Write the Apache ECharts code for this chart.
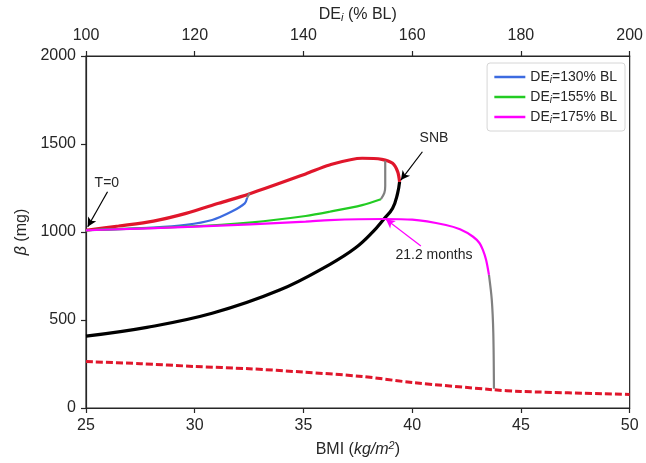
<!DOCTYPE html>
<html>
<head>
<meta charset="utf-8">
<script src="https://cdn.jsdelivr.net/npm/echarts@6/dist/echarts.min.js"></script>
<style>
  html, body { margin: 0; padding: 0; background: #fff; }
  #chart { width: 646px; height: 463px; }
</style>
</head>
<body>
<div id="chart"></div>
<script>
// data: [BMI, beta]
const stableBranch = [[25,408],[27.8,458],[30.8,538],[33.9,670],[36.2,815],[37.4,910],[38.2,1002],[38.7,1074],[39.1,1135],[39.33,1220],[39.42,1285]]
const upperBranch = [[25,1010],[26.5,1034],[28.1,1062],[29.6,1106],[31.1,1163],[32.5,1216],[35.1,1330],[36.2,1381],[37.7,1419],[38.6,1413],[39.1,1390],[39.33,1343],[39.42,1285]]
const lowerBranch = [[25,264],[27.5,252],[30,236],[32.5,223],[35,204],[37.7,179],[40,145],[43.7,104],[45,94],[50,77]]

const de130 = [[25,1010],[28.1,1025],[29.6,1040],[30.8,1068],[31.7,1116],[32.3,1163],[32.41,1195]]
const de130Tail = [[32.41,1195],[32.52,1220]]
const de155 = [[25,1010],[29.6,1030],[32.65,1055],[35.1,1091],[36.2,1115],[37.7,1153],[38.56,1186]]
const de155Tail = [[38.56,1186],[38.72,1222],[38.76,1262],[38.76,1405]]
const de175 = [[25,1010],[30,1030],[35.1,1059],[36.2,1068],[38.7,1074],[40,1070],[41.55,1040],[42.2,1015],[42.8,973],[43.1,936],[43.25,898],[43.4,841],[43.53,756]]
const de175Tail = [[43.53,756],[43.66,614],[43.73,426],[43.76,110]]

const legendNames = ['DEi=130% BL', 'DEi=155% BL', 'DEi=175% BL']
const bmiTicks = [25, 50, 5]
const deTicks = [100, 200, 20]
const betaTicks = [0, 2000, 500]

const font = 'Liberation Sans, Arial, sans-serif'
const ink = '#262626'

const chart = echarts.init(document.getElementById('chart'))

const axisCommon = {
  axisLine: { show: true, lineStyle: { color: ink, width: 1.2 } },
  axisTick: { show: true, length: 5, lineStyle: { color: ink, width: 1.2 } },
  axisLabel: { color: ink, fontSize: 16, fontFamily: font, margin: 10, formatter: v => String(v) },
  splitLine: { show: false },
  nameTextStyle: { color: ink, fontSize: 16, fontFamily: font }
}

let option = {
  animation: false,
  backgroundColor: '#fff',
  grid: { left: 86, right: 15, top: 56, bottom: 55, show: true, borderColor: ink, borderWidth: 1.2, backgroundColor: 'transparent' },
  legend: {
    data: legendNames,
    orient: 'vertical',
    top: 63, right: 21,
    padding: [7, 8, 6, 6],
    itemGap: 5,
    itemWidth: 31, itemHeight: 14,
    itemStyle: { opacity: 0 },
    lineStyle: { width: 2.5 },
    borderColor: '#d6d6d6', borderWidth: 1, borderRadius: 3,
    formatter: name => name.replace('DEi', 'DE{s|i}'),
    textStyle: {
      color: ink, fontSize: 14, fontFamily: font,
      rich: { s: { fontSize: 10, fontStyle: 'italic', fontFamily: font, color: ink, padding: [6, 0, 0, 0] } }
    }
  },
  xAxis: [{
    ...axisCommon,
    type: 'value', position: 'bottom',
    min: bmiTicks[0], max: bmiTicks[1], interval: bmiTicks[2],
    name: 'BMI ({it|kg/m}{sup|2})', nameLocation: 'middle', nameGap: 32,
    nameTextStyle: {
      ...axisCommon.nameTextStyle,
      rich: {
        it: { fontStyle: 'italic', fontSize: 16, fontFamily: font, color: ink },
        sup: { fontSize: 11, fontStyle: 'italic', fontFamily: font, color: ink, padding: [0, 0, 8, 0] }
      }
    }
  }, {
    ...axisCommon,
    type: 'value', position: 'top',
    axisLabel: { ...axisCommon.axisLabel, margin: 12 },
    min: deTicks[0], max: deTicks[1], interval: deTicks[2],
    name: 'DE{s|i} (% BL)', nameLocation: 'middle', nameGap: 30,
    nameTextStyle: {
      ...axisCommon.nameTextStyle,
      rich: { s: { fontSize: 11, fontStyle: 'italic', fontFamily: font, color: ink, padding: [7, 0, 0, 0] } }
    }
  }],
  yAxis: [{
    ...axisCommon,
    type: 'value',
    min: betaTicks[0], max: betaTicks[1], interval: betaTicks[2],
    name: '{b|β} (mg)', nameLocation: 'middle', nameGap: 54, nameRotate: 90,
    nameTextStyle: {
      ...axisCommon.nameTextStyle,
      rich: { b: { fontStyle: 'italic', fontSize: 16, fontFamily: font, color: ink } }
    }
  }],
  series: [
    {
      type: 'line', data: lowerBranch, symbol: 'none', z: 2, smooth: 0.3,
      lineStyle: { color: '#e0162b', width: 3, type: [7, 3], cap: 'butt' }
    },
    {
      type: 'line', data: stableBranch, symbol: 'none', z: 3, smooth: 0.4,
      lineStyle: { color: '#000', width: 3.2 }
    },
    {
      type: 'line', data: upperBranch, symbol: 'none', z: 4, smooth: 0.3,
      lineStyle: { color: '#e0162b', width: 3.2 }
    },
    {
      name: legendNames[0], type: 'line', data: de130, symbol: 'none', z: 5, smooth: 0.3,
      lineStyle: { color: '#3c6be0', width: 2.2 }, itemStyle: { color: '#3c6be0' }
    },
    {
      type: 'line', data: de130Tail, symbol: 'none', z: 5,
      lineStyle: { color: '#808080', width: 2.2 }
    },
    {
      name: legendNames[1], type: 'line', data: de155, symbol: 'none', z: 5, smooth: 0.3,
      lineStyle: { color: '#22cc22', width: 2.2 }, itemStyle: { color: '#22cc22' }
    },
    {
      type: 'line', data: de155Tail, symbol: 'none', z: 5, smooth: 0.3,
      lineStyle: { color: '#808080', width: 2.2 }
    },
    {
      name: legendNames[2], type: 'line', data: de175, symbol: 'none', z: 6, smooth: 0.3,
      lineStyle: { color: '#ff00ff', width: 2.2 }, itemStyle: { color: '#ff00ff' }
    },
    {
      type: 'line', data: de175Tail, symbol: 'none', z: 5, smooth: 0.3,
      lineStyle: { color: '#808080', width: 2.2 }
    },
    // annotations
    {
      type: 'line', data: [], symbol: 'none', z: 10,
      markLine: {
        silent: true, symbol: ['none', 'arrow'], symbolSize: [7, 9],
        label: { show: false },
        lineStyle: { color: '#000', width: 1.2, type: 'solid' },
        data: [
          [{ coord: [25.99, 1229] }, { coord: [25.08, 1030] }],
          [{ coord: [40.47, 1456] }, { coord: [39.48, 1295] }],
          [{ coord: [40.4, 920], lineStyle: { color: '#ff00ff', width: 1.2 }, itemStyle: { color: '#ff00ff' } }, { coord: [38.79, 1072], lineStyle: { color: '#ff00ff' }, itemStyle: { color: '#ff00ff' } }]
        ]
      },
      markPoint: {
        silent: true, symbol: 'circle', symbolSize: 1,
        itemStyle: { color: 'transparent' },
        label: { show: true, position: 'inside', formatter: p => p.name, color: ink, fontSize: 14, fontFamily: font },
        data: [
          { name: 'T=0', coord: [25.96, 1278] },
          { name: 'SNB', coord: [41.0, 1534] },
          { name: '21.2 months', coord: [41.0, 869] }
        ]
      }
    }
  ]
}

chart.setOption(option)
</script>
</body>
</html>
